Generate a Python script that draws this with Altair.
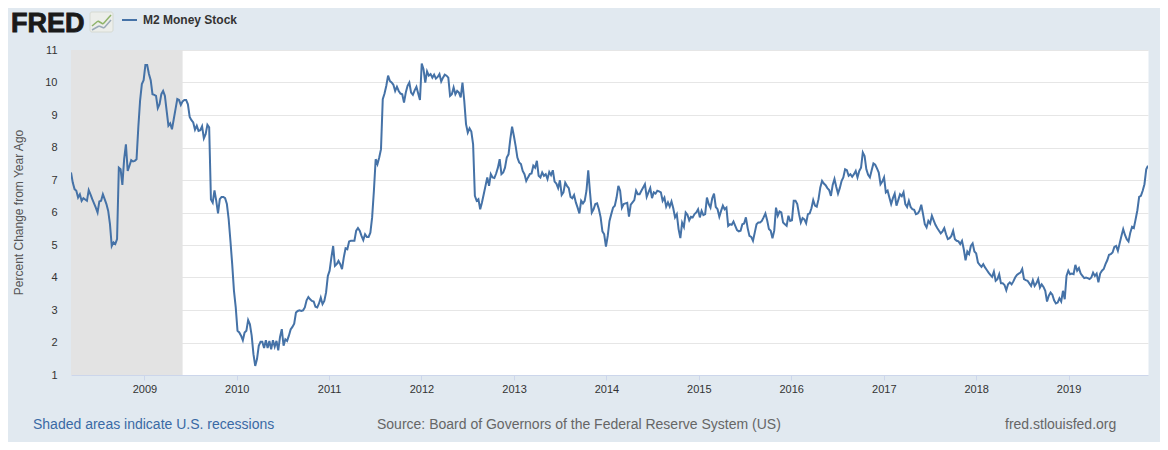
import altair as alt
import pandas as pd

# Weekly M2 Money Stock, percent change from year ago
m2_2008_2010 = [
    7.23, 6.92, 6.72, 6.67, 6.46, 6.56, 6.36, 6.44, 6.40, 6.36,
    6.69, 6.56, 6.41, 6.28, 6.15, 6.00, 6.34, 6.36, 6.56, 6.41,
    6.26, 6.05, 5.64, 4.97, 5.08, 5.03, 5.18, 7.38, 7.33, 6.85,
    7.64, 8.10, 7.28, 7.44, 7.61, 7.57, 7.59, 7.64, 8.62, 9.44,
    9.95, 10.07, 10.54, 10.54, 10.26, 10.07, 9.64, 9.62, 9.59, 9.21,
    9.33, 9.64, 9.74, 9.59, 9.13, 8.67, 8.74, 8.56, 8.87, 9.18,
    9.49, 9.46, 9.31, 9.42, 9.46, 9.46, 9.33, 8.94, 8.84, 8.77,
    8.55, 8.67, 8.51, 8.53, 8.65, 8.28, 8.41, 8.70, 8.62, 6.40,
    6.30, 6.68, 6.36, 5.97, 6.41, 6.48, 6.48, 6.44, 6.26, 5.80,
    5.13, 4.41, 3.59, 3.08, 2.36, 2.31, 2.21, 2.07, 2.31, 2.36,
    2.69,
]
m2_2010_2012 = [
    2.56, 2.21, 1.64, 1.28, 1.49, 1.90, 2.02, 2.02, 1.83, 2.07,
    1.83, 2.05, 1.79, 2.07, 1.87, 2.05, 1.76, 2.17, 2.41, 1.90,
    2.10, 2.05, 2.21, 2.40, 2.48, 2.58, 2.92, 2.97, 2.99, 2.97,
    2.99, 3.08, 3.30, 3.40, 3.33, 3.28, 3.26, 3.10, 3.08, 3.20,
    3.38, 3.18, 3.28, 3.54, 4.05, 4.21, 4.62, 4.97, 4.36, 4.41,
    4.51, 4.41, 4.26, 4.62, 4.90, 4.87, 5.11, 5.13, 5.13, 5.13,
    5.44, 5.52, 5.44, 5.28, 5.15, 5.33, 5.25, 5.25, 5.38, 5.85,
    6.67, 7.64, 7.49, 7.69, 7.95, 9.49, 9.66, 9.90, 10.21, 10.05,
    10.00, 9.93, 9.74, 9.87, 9.74, 9.66, 9.64, 9.38, 9.69, 9.90,
    10.00, 9.69, 9.62, 9.76, 9.87, 9.66, 9.46, 10.58, 10.41, 10.00,
    10.34,
]
m2_2012_2014 = [
    10.21, 10.26, 10.15, 10.24, 10.12, 10.17, 10.26, 10.03, 10.15, 10.24,
    10.21, 10.15, 9.59, 9.64, 9.85, 9.64, 9.74, 9.69, 9.54, 10.00,
    9.44, 8.72, 8.46, 8.59, 8.49, 8.10, 6.51, 6.36, 6.41, 6.10,
    6.31, 6.56, 6.82, 7.08, 6.82, 7.18, 7.08, 7.06, 7.20, 7.38,
    7.64, 7.18, 7.23, 7.38, 7.69, 7.79, 8.26, 8.64, 8.36, 8.05,
    7.69, 7.54, 7.49, 7.28, 7.18, 6.97, 7.08, 7.18, 7.20, 7.44,
    7.38, 7.59, 7.13, 7.08, 7.23, 7.13, 7.18, 7.03, 7.25, 7.15,
    7.30, 6.95, 6.89, 6.75, 6.99, 6.54, 6.62, 6.92, 6.82, 6.75,
    6.48, 6.44, 6.54, 6.31, 6.15, 5.97, 6.36, 6.28, 6.36, 6.67,
    7.30, 6.62, 6.00, 6.10, 6.26, 6.28, 6.10, 5.85, 5.42, 5.33,
    4.95,
]
m2_2014_2016 = [
    5.28, 5.74, 5.95, 6.15, 6.21, 6.46, 6.82, 6.67, 6.15, 6.26,
    6.28, 6.30, 5.87, 6.24, 6.31, 6.38, 6.67, 6.56, 6.56, 6.67,
    6.77, 6.87, 6.48, 6.62, 6.75, 6.44, 6.62, 6.58, 6.67, 6.65,
    6.62, 6.36, 6.46, 6.18, 6.31, 6.18, 6.34, 6.13, 5.85, 5.95,
    5.49, 5.21, 5.69, 5.56, 6.00, 5.93, 5.76, 5.87, 5.85, 5.95,
    6.00, 6.10, 5.85, 6.05, 5.92, 5.95, 6.46, 6.26, 6.15, 6.44,
    6.58, 6.17, 6.10, 5.87, 6.05, 6.21, 6.10, 6.15, 5.59, 5.64,
    5.62, 5.72, 5.59, 5.46, 5.42, 5.44, 5.64, 5.66, 5.85, 5.52,
    5.28, 5.25, 5.13, 5.38, 5.64, 5.69, 5.69, 5.74, 5.85, 5.97,
    5.76, 5.49, 5.44, 5.21, 5.44, 6.15, 5.90, 6.03, 6.00, 5.69,
]
m2_2016_2017 = [
    5.64, 5.59, 5.90, 5.74, 5.76, 6.36, 6.36, 6.26, 5.95, 5.69,
    5.83, 5.79, 5.67, 5.95, 5.97, 6.13, 6.38, 6.21, 6.18, 6.41,
    6.77, 6.97, 6.89, 6.84, 6.75, 6.69, 6.51, 6.85, 7.03, 6.79,
    6.58, 6.75, 6.97, 7.08, 7.33, 7.30, 7.13, 7.18, 7.10, 7.18,
    7.28, 7.08, 7.28, 7.38, 7.85, 7.74, 7.33, 7.16, 7.08, 7.30,
    7.51, 7.47, 7.36, 7.23, 6.87, 6.95, 7.08, 6.62, 6.67, 6.46,
    6.26, 6.44, 6.58, 6.21, 6.38, 6.56, 6.50, 6.62, 6.26, 6.17,
    6.36, 6.17, 6.10, 6.08, 5.95, 5.97, 6.05, 6.24, 5.95, 5.64,
    5.54, 5.74, 5.66, 5.90, 5.76, 5.62, 5.52, 5.44, 5.36, 5.42,
    5.52, 5.33, 5.18, 5.21, 5.28, 5.44, 5.18, 5.13, 5.11, 5.03,
]
m2_2017_2019 = [
    5.13, 4.87, 4.53, 4.80, 4.72, 4.97, 5.05, 4.80, 4.74, 4.46,
    4.39, 4.33, 4.41, 4.31, 4.23, 4.15, 4.08, 4.02, 4.18, 3.90,
    3.95, 4.10, 3.82, 3.82, 3.77, 3.61, 3.79, 3.85, 3.79, 3.88,
    4.00, 4.08, 4.12, 4.15, 4.26, 3.95, 3.92, 3.90, 3.82, 3.74,
    3.92, 3.74, 3.82, 3.95, 3.69, 3.79, 3.71, 3.59, 3.26, 3.44,
    3.54, 3.47, 3.30, 3.20, 3.23, 3.36, 3.26, 3.59, 3.33, 4.05,
    4.21, 4.10, 4.12, 4.10, 4.39, 4.21, 4.29, 4.12, 4.05, 3.98,
    4.00, 3.98, 3.95, 4.00, 4.15, 4.05, 4.12, 3.85, 4.12, 4.21,
    4.26, 4.41, 4.53, 4.70, 4.72, 4.77, 4.94, 4.97, 4.82, 5.05,
    5.28, 5.49, 5.31, 5.18, 5.11, 5.38, 5.56, 5.52, 5.79, 6.07,
    6.48, 6.51, 6.67, 6.87, 7.33, 7.44,
]

first_week = "2008-03-17"
recession_start = ["2007-12-01"]
recession_end = ["2009-06-01"]
year_ticks = list(range(2009, 2020))
y_ticks = list(range(1, 12))

values = (m2_2008_2010 + m2_2010_2012 + m2_2012_2014
          + m2_2014_2016 + m2_2016_2017 + m2_2017_2019)
dates = pd.date_range(first_week, periods=len(values), freq="7D")
df = pd.DataFrame({"date": dates.strftime("%Y-%m-%d"), "pct": values})
rec = pd.DataFrame({"start": recession_start, "end": recession_end})
one = pd.DataFrame({"k": [0]})

FONT = "Liberation Sans"
LINE = "#4572a7"

last = dates[-1]
xscale = alt.Scale(domain=[
    alt.DateTime(year=2008, month=3, date=17),
    alt.DateTime(year=int(last.year), month=int(last.month), date=int(last.day)),
])
yscale = alt.Scale(domain=[1, 11], nice=False, zero=False)

x_axis = alt.Axis(
    values=[alt.DateTime(year=y, month=1, date=1) for y in year_ticks],
    format="%Y", labelFontSize=11, labelColor="#333333", labelFont=FONT,
    tickColor="#ccd6eb", tickSize=5, domainColor="#ccd6eb", grid=False,
    labelPadding=3, title="",
)
y_axis = alt.Axis(
    values=y_ticks, labelFontSize=11, labelColor="#333333", labelFont=FONT,
    domain=False, ticks=False, gridColor="#e6e6e6", labelPadding=14,
    title="Percent Change from Year Ago", titleFont=FONT, titleFontSize=12,
    titleColor="#555555", titleFontWeight="normal",
    titleX=-53, titleY=162, titleAngle=-90, titleAlign="center",
    titleBaseline="middle",
)

shade = alt.Chart(rec).mark_rect(color="#e3e3e3", clip=True).encode(
    x=alt.X("start:T", scale=xscale, axis=x_axis),
    x2="end:T",
)

line = alt.Chart(df).mark_line(color=LINE, strokeWidth=2, clip=True).encode(
    x=alt.X("date:T", scale=xscale, axis=x_axis),
    y=alt.Y("pct:Q", scale=yscale, axis=y_axis),
)

fred = alt.Chart(one).mark_text(
    text="FRED", font=FONT, fontSize=27, fontWeight="bold", color="#1a1a1a",
    stroke="#1a1a1a", strokeWidth=0.9,
    align="left", baseline="alphabetic",
).encode(x=alt.value(-60), y=alt.value(-18))

# small FRED logo icon: light box with two zigzag strokes
icon_box = alt.Chart(one).mark_rect(
    fill="#eceeea", stroke="#d6dad2", strokeWidth=1, cornerRadius=2
).encode(x=alt.value(19), x2=alt.value(42), y=alt.value(-38), y2=alt.value(-18))
icon_g1 = alt.Chart(one).mark_rule(color="#8fb36a", strokeWidth=1.5).encode(
    x=alt.value(21), x2=alt.value(27), y=alt.value(-24), y2=alt.value(-29))
icon_g2 = alt.Chart(one).mark_rule(color="#8fb36a", strokeWidth=1.5).encode(
    x=alt.value(27), x2=alt.value(32), y=alt.value(-29), y2=alt.value(-26))
icon_g3 = alt.Chart(one).mark_rule(color="#8fb36a", strokeWidth=1.5).encode(
    x=alt.value(32), x2=alt.value(40), y=alt.value(-26), y2=alt.value(-35))
icon_b1 = alt.Chart(one).mark_rule(color="#9aa9b8", strokeWidth=1.5).encode(
    x=alt.value(21), x2=alt.value(28), y=alt.value(-20), y2=alt.value(-24))
icon_b2 = alt.Chart(one).mark_rule(color="#9aa9b8", strokeWidth=1.5).encode(
    x=alt.value(28), x2=alt.value(33), y=alt.value(-24), y2=alt.value(-22))
icon_b3 = alt.Chart(one).mark_rule(color="#9aa9b8", strokeWidth=1.5).encode(
    x=alt.value(33), x2=alt.value(40), y=alt.value(-22), y2=alt.value(-30))

leg_line = alt.Chart(one).mark_rule(color=LINE, strokeWidth=2).encode(
    x=alt.value(51), x2=alt.value(66), y=alt.value(-30)
)
leg_text = alt.Chart(one).mark_text(
    text="M2 Money Stock", font=FONT, fontSize=12, fontWeight="bold",
    color="#333333", align="left", baseline="middle",
).encode(x=alt.value(72), y=alt.value(-30))

foot1 = alt.Chart(one).mark_text(
    text="Shaded areas indicate U.S. recessions", font=FONT, fontSize=14,
    color="#3a6aa5", align="left", baseline="middle",
).encode(x=alt.value(-38), y=alt.value(375))
foot2 = alt.Chart(one).mark_text(
    text="Source: Board of Governors of the Federal Reserve System (US)",
    font=FONT, fontSize=14, color="#666666", align="left", baseline="middle",
).encode(x=alt.value(306), y=alt.value(375))
foot3 = alt.Chart(one).mark_text(
    text="fred.stlouisfed.org", font=FONT, fontSize=14, color="#666666",
    align="left", baseline="middle",
).encode(x=alt.value(934), y=alt.value(375))

chart = alt.layer(
    shade, line, fred, icon_box, icon_g1, icon_g2, icon_g3,
    icon_b1, icon_b2, icon_b3, leg_line, leg_text, foot1, foot2, foot3
).properties(
    width=1077, height=325,
    autosize=alt.AutoSizeParams(type="none"),
    padding={"left": 63, "top": 42, "right": 12, "bottom": 67},
    background="#e1e9f0",
).configure(
    font=FONT,
    view=alt.ViewConfig(fill="white", stroke="transparent"),
)

chart.save("out.html", embed_options={"renderer": "svg", "actions": False})
